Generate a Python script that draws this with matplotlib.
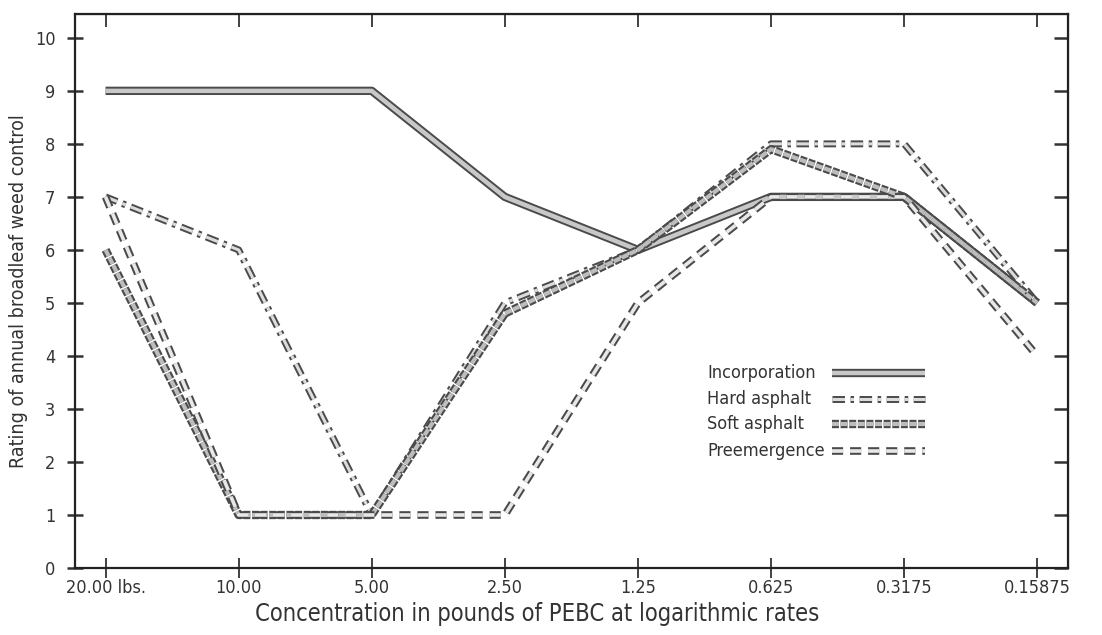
import numpy as np
import matplotlib
matplotlib.use("Agg")
import matplotlib.pyplot as plt

plt.rcParams['font.family'] = ['DejaVu Sans']
plt.rcParams['font.stretch'] = 'condensed'
plt.rcParams['lines.scale_dashes'] = False

rates = ["20.00 lbs.", "10.00", "5.00", "2.50", "1.25", "0.625", "0.3175", "0.15875"]
incorporation = [9, 9, 9, 7, 6, 7, 7, 5]
hard_asphalt = [7, 6, 1, 5, 6, 8, 8, 5]
soft_asphalt = [6, 1, 1, 4.8, 6, 7.9, 7, 5]
preemergence = [7, 1, 1, 1, 5, 7, 7, 4]
names = ["Incorporation", "Hard asphalt", "Soft asphalt", "Preemergence"]

x = np.arange(len(rates))

fig = plt.figure(figsize=(11.02, 6.35), dpi=100)
ax = fig.add_axes([0.068, 0.1055, 0.901, 0.8725])

styles = [
    dict(dashes=None, lw_out=6, lw_in=3.2, inner='#c8c8c8'),
    dict(dashes=(9, 4, 2.5, 4), lw_out=5, lw_in=2.2, inner='#dcdcdc'),
    dict(dashes=(5, 1.2), lw_out=6, lw_in=3, inner='#bdbdbd'),
    dict(dashes=(8, 5), lw_out=5.5, lw_in=2.6, inner='#e8e8e8'),
]

def outlined(xs, ys, st, **kw):
    ls = (0, st['dashes']) if st['dashes'] else '-'
    for c, w in (('#4a4a4a', st['lw_out']), (st['inner'], st['lw_in'])):
        ax.plot(xs, ys, color=c, lw=w, linestyle=ls,
                dash_capstyle='butt', solid_capstyle='butt', **kw)

for ys, st in zip([incorporation, hard_asphalt, soft_asphalt, preemergence], styles):
    outlined(x, ys, st)

ax.set_xlim(-0.23, 7.23)
ax.set_ylim(0, 10.45)
ax.set_xticks(x)
ax.set_xticklabels(rates)
ax.set_yticks(range(0, 11))

for s in ax.spines.values():
    s.set_linewidth(1.6)
    s.set_color('#222')

ax.tick_params(axis='x', direction='inout', length=14, width=1.3, labelsize=13,
               pad=1, colors='#333')
ax.tick_params(axis='y', direction='inout', length=12, width=1.8, labelsize=13,
               pad=8, colors='#333')

top = ax.secondary_xaxis('top')
top.set_xticks(x)
top.tick_params(direction='in', length=9, width=1.3, labeltop=False, colors='#333')
right = ax.secondary_yaxis('right')
right.set_yticks(range(0, 11))
right.tick_params(direction='in', length=10, width=1.8, labelright=False, colors='#333')

ax.set_xlabel("Concentration in pounds of PEBC at logarithmic rates", fontsize=17,
              color='#333')
ax.xaxis.set_label_coords(0.465, -0.062)
ax.set_ylabel("Rating of annual broadleaf weed control", fontsize=14,
              color='#333', labelpad=5)

# legend drawn by hand: labels left-aligned, samples to the right
leg_y = [0.352, 0.305, 0.26, 0.211]
for name, st, yy in zip(names, styles, leg_y):
    ax.text(0.637, yy, name, transform=ax.transAxes, fontsize=13, color='#333',
            va='center', ha='left')
    outlined([0.762, 0.856], [yy, yy], st, transform=ax.transAxes)

plt.savefig('out.png', dpi=100)
plt.close()
